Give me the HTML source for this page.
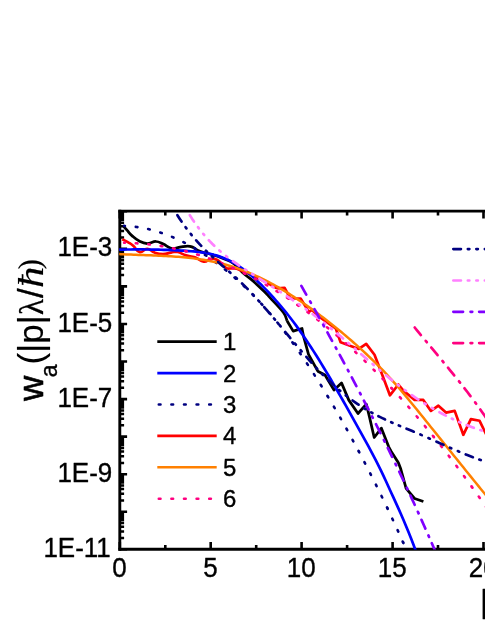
<!DOCTYPE html>
<html><head><meta charset="utf-8"><title>chart</title>
<style>html,body{margin:0;padding:0;background:#fff;}body{width:485px;height:628px;overflow:hidden;font-family:"Liberation Sans",sans-serif;}</style>
</head><body>
<div style="will-change:transform;width:485px;height:628px">
<svg width="485" height="628" viewBox="0 0 485 628" style="display:block">
<rect width="485" height="628" fill="#fff"/>
<defs><clipPath id="cp"><rect x="119.2" y="213.2" width="370" height="336.40000000000003"/></clipPath></defs>
<g stroke="#000" fill="none">
<path d="M119.8,550.8V209.85" stroke-width="2.9"/>
<path d="M118.35,211.15H490" stroke-width="2.6"/>
<path d="M118.35,549.3H490" stroke-width="2.9"/>
<path d="M119.8,549.3V542.0M119.8,211.15V218.45000000000002M210.7,549.3V542.0M210.7,211.15V218.45000000000002M301.6,549.3V542.0M301.6,211.15V218.45000000000002M392.6,549.3V542.0M392.6,211.15V218.45000000000002M483.5,549.3V542.0M483.5,211.15V218.45000000000002M165.3,549.3V545.0M165.3,211.15V215.45000000000002M256.2,549.3V545.0M256.2,211.15V215.45000000000002M347.1,549.3V545.0M347.1,211.15V215.45000000000002M438.0,549.3V545.0M438.0,211.15V215.45000000000002" stroke-width="2.6"/>
<path d="M119.8,549.3H127.1M119.8,511.7H127.1M119.8,474.2H127.1M119.8,436.6H127.1M119.8,399.1H127.1M119.8,361.5H127.1M119.8,324.0H127.1M119.8,286.4H127.1M119.8,248.9H127.1M119.8,211.3H127.1" stroke-width="2.6"/>
<path d="M119.8,538.0H124.1M119.8,531.4H124.1M119.8,526.7H124.1M119.8,523.1H124.1M119.8,520.1H124.1M119.8,517.6H124.1M119.8,515.4H124.1M119.8,513.5H124.1M119.8,500.4H124.1M119.8,493.8H124.1M119.8,489.1H124.1M119.8,485.5H124.1M119.8,482.5H124.1M119.8,480.0H124.1M119.8,477.8H124.1M119.8,475.9H124.1M119.8,462.9H124.1M119.8,456.3H124.1M119.8,451.6H124.1M119.8,448.0H124.1M119.8,445.0H124.1M119.8,442.5H124.1M119.8,440.3H124.1M119.8,438.4H124.1M119.8,425.3H124.1M119.8,418.7H124.1M119.8,414.0H124.1M119.8,410.4H124.1M119.8,407.4H124.1M119.8,404.9H124.1M119.8,402.7H124.1M119.8,400.8H124.1M119.8,387.8H124.1M119.8,381.2H124.1M119.8,376.5H124.1M119.8,372.9H124.1M119.8,369.9H124.1M119.8,367.4H124.1M119.8,365.2H124.1M119.8,363.3H124.1M119.8,350.2H124.1M119.8,343.6H124.1M119.8,338.9H124.1M119.8,335.3H124.1M119.8,332.3H124.1M119.8,329.8H124.1M119.8,327.6H124.1M119.8,325.7H124.1M119.8,312.7H124.1M119.8,306.1H124.1M119.8,301.4H124.1M119.8,297.8H124.1M119.8,294.8H124.1M119.8,292.3H124.1M119.8,290.1H124.1M119.8,288.2H124.1M119.8,275.1H124.1M119.8,268.5H124.1M119.8,263.8H124.1M119.8,260.2H124.1M119.8,257.2H124.1M119.8,254.7H124.1M119.8,252.5H124.1M119.8,250.6H124.1M119.8,237.6H124.1M119.8,231.0H124.1M119.8,226.3H124.1M119.8,222.7H124.1M119.8,219.7H124.1M119.8,217.2H124.1M119.8,215.0H124.1M119.8,213.1H124.1" stroke-width="2.5"/>
</g>
<g clip-path="url(#cp)" fill="none" stroke-linejoin="round">
<path d="M123.0,225.6C123.1,225.7 122.8,225.3 123.7,226.3C124.6,227.3 125.7,228.6 127.4,230.6C129.1,232.6 130.0,234.0 132.4,236.1C134.8,238.2 136.2,239.6 139.2,241.1C142.2,242.6 143.9,243.5 147.2,243.6C150.5,243.7 152.7,241.4 155.9,241.5C159.1,241.6 160.1,242.7 163.3,244.1C166.5,245.5 168.7,247.9 172.0,248.5C175.3,249.1 176.9,247.7 180.0,247.2C183.1,246.7 185.1,246.0 187.6,246.0C190.1,246.0 190.1,246.1 192.6,247.1C195.1,248.1 195.2,249.4 200.0,251.2C204.8,253.0 209.9,253.6 216.5,256.0C223.1,258.4 227.6,259.5 233.0,263.0C238.4,266.5 239.8,270.1 243.7,273.6C247.6,277.1 248.2,276.7 252.4,280.4C256.6,284.1 261.3,288.7 264.8,292.1C268.3,295.5 266.3,293.5 270.0,297.6C273.7,301.7 280.0,307.9 283.4,312.5C286.8,317.1 286.3,319.1 287.0,320.8" stroke="#000" stroke-width="2.75"/>
<path d="M287.0,320.8L293.2,331.1L302.0,328.5L303.5,336.2L308.5,354.3L317.8,371.2L325.0,375.0L334.0,390.1L341.5,382.9L348.8,400.1L358.0,413.5L366.3,404.2L369.4,416.6L374.2,437.5L381.4,428.2L388.7,446.8L391.2,451.4L398.4,462.8L400.5,468.2L406.1,488.4L414.5,498.5L423.4,501.5" stroke="#000" stroke-width="2.75"/>
<path d="M122.3,239.2C122.5,239.3 121.9,239.1 123.3,239.8C124.7,240.5 125.9,240.9 128.2,242.3C130.5,243.7 130.5,243.4 133.2,245.7C135.9,248.0 136.5,251.5 139.8,252.2C143.1,252.9 143.7,248.7 147.2,248.8C150.7,248.9 150.9,251.3 154.6,252.6C158.3,253.9 159.1,254.2 162.9,254.2C166.8,254.2 167.6,253.1 171.1,252.6C174.6,252.1 174.2,251.3 177.7,252.0C181.2,252.7 182.0,254.2 186.0,255.4C190.0,256.6 190.9,255.9 195.0,257.3C199.1,258.7 200.0,261.2 203.7,261.6C207.4,262.0 207.8,259.4 211.0,259.0C214.2,258.6 213.8,257.9 217.3,260.0C220.8,262.1 222.6,265.8 226.0,267.8C229.4,269.8 228.7,267.9 232.0,268.4C235.3,268.9 233.5,267.5 240.0,270.0C246.5,272.5 251.3,274.7 260.0,279.0C268.7,283.3 273.1,286.2 277.1,288.4" stroke="#ff0000" stroke-width="2.7"/>
<path d="M277.1,288.4L284.6,287.8L290.3,298.5L300.6,298.5L308.9,311.9L312.0,309.8L318.0,316.0L335.7,328.3L340.6,342.3L358.8,348.9L366.2,343.9L374.5,354.7L382.7,376.1L389.9,395.3L398.4,384.5L403.8,391.0L414.6,399.9L423.3,399.9L430.9,410.9L438.4,405.7L446.0,412.6L454.7,410.9L463.3,434.8L470.9,419.1L479.6,420.8L485.0,432.0L487.0,436.0" stroke="#ff0000" stroke-width="2.7"/>
<path d="M116.00,249.66L118.50,249.62L121.00,249.58L123.50,249.55L126.00,249.52L128.50,249.50L131.00,249.48L133.50,249.47L136.00,249.46L138.50,249.45L141.00,249.46L143.50,249.47L146.00,249.48L148.50,249.50L151.00,249.53L153.50,249.57L156.00,249.62L158.50,249.67L161.00,249.73L163.50,249.80L166.00,249.88L168.50,249.97L171.00,250.07L173.50,250.17L176.00,250.29L178.50,250.42L181.00,250.56L183.50,250.71L186.00,250.87L188.50,251.04L191.00,251.24L193.50,251.45L196.00,251.69L198.50,251.97L201.00,252.29L203.50,252.65L206.00,253.07L208.50,253.54L211.00,254.08L213.50,254.68L216.00,255.36L218.50,256.13L221.00,256.97L223.50,257.91L226.00,258.95L228.50,260.09L231.00,261.34L233.50,262.70L236.00,264.18L238.50,265.78L241.00,267.49L243.50,269.30L246.00,271.21L248.50,273.22L251.00,275.33L253.50,277.52L256.00,279.79L258.50,282.15L261.00,284.58L263.50,287.08L266.00,289.65L268.50,292.29L271.00,294.98L273.50,297.74L276.00,300.56L278.50,303.43L281.00,306.36L283.50,309.35L286.00,312.40L288.50,315.53L291.00,318.74L293.50,322.03L296.00,325.41L298.50,328.86L301.00,332.40L303.50,336.01L306.00,339.69L308.50,343.44L311.00,347.26L313.50,351.14L316.00,355.07L318.50,359.07L321.00,363.12L323.50,367.22L326.00,371.37L328.50,375.56L331.00,379.80L333.50,384.07L336.00,388.38L338.50,392.73L341.00,397.10L343.50,401.50L346.00,405.93L348.50,410.38L351.00,414.84L353.50,419.32L356.00,423.81L358.50,428.31L361.00,432.82L363.50,437.33L366.00,441.86L368.50,446.43L371.00,451.06L373.50,455.77L376.00,460.58L378.50,465.52L381.00,470.61L383.50,475.87L386.00,481.27L388.50,486.73L391.00,492.20L393.50,497.66L396.00,503.14L398.50,508.68L401.00,514.31L403.50,520.05L406.00,525.94L408.50,532.00L411.00,538.27L413.50,544.79L416.00,551.57L417.30,555.21" stroke="#0000ff" stroke-width="2.7"/>
<path d="M124.10,225.91L126.60,226.02L129.10,226.18L131.60,226.39L134.10,226.65L136.60,226.97L139.10,227.34L141.60,227.76L144.10,228.23L146.60,228.75L149.10,229.32L151.60,229.94L154.10,230.61L156.60,231.34L159.10,232.11L161.60,232.93L164.10,233.80L166.60,234.72L169.10,235.69L171.60,236.70L174.10,237.77L176.60,238.88L179.10,240.04L181.60,241.25L184.10,242.51L186.60,243.81L189.10,245.16L191.60,246.56L194.10,248.00L195.11,248.61" stroke="#000080" stroke-width="2.6" stroke-dasharray="1.694 10.865" stroke-dashoffset="0.847" stroke-linecap="round"/>
<path d="M195.11,248.61L196.60,249.49L199.10,251.03L201.60,252.61L204.10,254.24L206.60,255.91L209.10,257.62L211.60,259.39L214.10,261.19L216.60,263.04L219.10,264.94L221.60,266.87L224.10,268.86L226.60,270.88L229.10,272.95L231.60,275.06L234.10,277.21L236.60,279.41L239.10,281.65L241.60,283.93L244.10,286.26L246.60,288.64L249.10,291.07L251.60,293.55L254.10,296.08L256.60,298.66L259.10,301.30L261.60,304.00L264.10,306.76L266.60,309.57L269.10,312.45L271.60,315.39L274.10,318.40L276.60,321.47L279.10,324.61L281.60,327.81L284.10,331.07L286.60,334.39L289.10,337.77L291.60,341.21L292.93,343.05" stroke="#000080" stroke-width="2.6" stroke-dasharray="1.679 10.768" stroke-dashoffset="0.840" stroke-linecap="round"/>
<path d="M292.93,343.05L294.10,344.69L296.60,348.24L299.10,351.83L301.60,355.47L304.10,359.16L306.60,362.90L309.10,366.68L311.60,370.51L314.10,374.39L316.60,378.32L319.10,382.29L321.60,386.31L324.10,390.38L326.60,394.49L327.87,396.60" stroke="#000080" stroke-width="2.6" stroke-dasharray="1.726 11.065" stroke-dashoffset="0.863" stroke-linecap="round"/>
<path d="M327.87,396.60L329.10,398.64L331.60,402.85L334.10,407.09L336.60,411.39L339.10,415.72L341.60,420.11L344.10,424.53L346.60,429.00L349.10,433.51L351.60,438.07L354.10,442.67L356.60,447.31L358.91,451.65" stroke="#000080" stroke-width="2.6" stroke-dasharray="1.706 10.937" stroke-dashoffset="0.853" stroke-linecap="round"/>
<path d="M358.91,451.65L359.10,452.00L361.60,456.73L364.10,461.50L366.60,466.32L369.10,471.18L371.60,476.09L374.10,481.04L376.60,486.05L379.10,491.10L381.60,496.21L384.10,501.37L386.60,506.58L387.34,508.13" stroke="#000080" stroke-width="2.6" stroke-dasharray="1.706 10.941" stroke-dashoffset="0.853" stroke-linecap="round"/>
<path d="M387.34,508.13L389.10,511.84L391.60,517.16L394.10,522.54L396.60,527.97L399.10,533.46L401.60,539.01L403.05,542.28" stroke="#000080" stroke-width="2.6" stroke-dasharray="1.690 10.838" stroke-dashoffset="0.845" stroke-linecap="round"/>
<path d="M403.05,542.28L404.10,544.63L406.60,550.30L408.00,553.50" stroke="#000080" stroke-width="2.6" stroke-dasharray="1.700 10.900" stroke-dashoffset="0.850" stroke-linecap="round"/>
<path d="M116.00,253.90L118.50,254.04L121.00,254.18L123.50,254.30L126.00,254.41L128.50,254.52L131.00,254.62L133.50,254.72L136.00,254.81L138.50,254.90L141.00,254.99L143.50,255.08L146.00,255.17L148.50,255.26L151.00,255.35L153.50,255.44L156.00,255.54L158.50,255.65L161.00,255.76L163.50,255.89L166.00,256.02L168.50,256.16L171.00,256.31L173.50,256.47L176.00,256.65L178.50,256.84L181.00,257.05L183.50,257.28L186.00,257.52L188.50,257.78L191.00,258.06L193.50,258.37L196.00,258.69L198.50,259.04L201.00,259.41L203.50,259.81L206.00,260.24L208.50,260.69L211.00,261.17L213.50,261.68L216.00,262.22L218.50,262.79L221.00,263.40L223.50,264.04L226.00,264.72L228.50,265.43L231.00,266.18L233.50,266.97L236.00,267.79L238.50,268.66L241.00,269.56L243.50,270.51L246.00,271.49L248.50,272.50L251.00,273.55L253.50,274.64L256.00,275.77L258.50,276.93L261.00,278.12L263.50,279.35L266.00,280.61L268.50,281.90L271.00,283.23L273.50,284.59L276.00,285.98L278.50,287.40L281.00,288.86L283.50,290.34L286.00,291.85L288.50,293.39L291.00,294.97L293.50,296.57L296.00,298.19L298.50,299.85L301.00,301.53L303.50,303.24L306.00,304.97L308.50,306.74L311.00,308.52L313.50,310.33L316.00,312.17L318.50,314.02L321.00,315.90L323.50,317.81L326.00,319.74L328.50,321.69L331.00,323.66L333.50,325.66L336.00,327.67L338.50,329.72L341.00,331.78L343.50,333.87L346.00,335.99L348.50,338.12L351.00,340.28L353.50,342.47L356.00,344.68L358.50,346.91L361.00,349.17L363.50,351.45L366.00,353.76L368.50,356.10L371.00,358.47L373.50,360.88L376.00,363.33L378.50,365.82L381.00,368.36L383.50,370.95L386.00,373.59L388.50,376.29L391.00,379.04L393.50,381.83L396.00,384.67L398.50,387.55L401.00,390.46L403.50,393.41L406.00,396.39L408.50,399.40L411.00,402.43L413.50,405.48L416.00,408.55L418.50,411.64L421.00,414.73L423.50,417.84L426.00,420.95L428.50,424.06L431.00,427.17L433.50,430.28L436.00,433.39L438.50,436.51L441.00,439.62L443.50,442.73L446.00,445.84L448.50,448.95L451.00,452.06L453.50,455.17L456.00,458.27L458.50,461.38L461.00,464.48L463.50,467.58L466.00,470.68L468.50,473.78L471.00,476.87L473.50,479.96L476.00,483.05L478.50,486.13L481.00,489.21L483.50,492.29L486.00,495.36L488.50,498.43L490.70,501.13" stroke="#ff8000" stroke-width="2.5"/>
<path d="M124.10,242.79L126.60,242.84L129.10,242.91L131.60,243.01L134.10,243.14L136.60,243.29L139.10,243.46L141.60,243.66L144.10,243.88L146.60,244.13L149.10,244.41L151.60,244.70L154.10,245.03L156.60,245.37L159.10,245.75L161.60,246.14L164.10,246.56L166.60,247.01L169.10,247.48L171.60,247.98L174.10,248.50L176.60,249.05L179.10,249.62L181.60,250.21L184.10,250.83L185.97,251.31" stroke="#ff0080" stroke-width="2.6" stroke-dasharray="1.689 10.832" stroke-dashoffset="0.845" stroke-linecap="round"/>
<path d="M185.97,251.31L186.60,251.47L189.10,252.14L191.60,252.84L194.10,253.56L196.60,254.30L199.10,255.07L201.60,255.86L204.10,256.68L206.60,257.52L209.10,258.39L211.60,259.28L214.10,260.19L216.60,261.14L219.10,262.10L221.60,263.09L224.10,264.11L226.60,265.15L229.10,266.21L231.60,267.30L234.10,268.41L236.60,269.55L239.10,270.72L241.60,271.90L244.10,273.12L244.45,273.29" stroke="#ff0080" stroke-width="2.6" stroke-dasharray="1.689 10.828" stroke-dashoffset="0.844" stroke-linecap="round"/>
<path d="M244.45,273.29L246.60,274.35L249.10,275.62L251.60,276.90L254.10,278.21L256.60,279.55L259.10,280.91L261.60,282.29L264.10,283.70L266.60,285.14L269.10,286.60L271.60,288.08L274.10,289.59L276.60,291.12L279.10,292.68L281.60,294.26L284.10,295.87L286.60,297.50L289.10,299.16L291.60,300.84L294.10,302.55L296.60,304.28L298.06,305.30" stroke="#ff0080" stroke-width="2.6" stroke-dasharray="1.686 10.813" stroke-dashoffset="0.843" stroke-linecap="round"/>
<path d="M298.06,305.30L299.10,306.03L301.60,307.81L304.10,309.61L306.60,311.44L309.10,313.30L311.60,315.17L314.10,317.08L316.60,319.00L319.10,320.96L321.60,322.93L324.10,324.93L326.60,326.96L329.10,329.01L331.60,331.08L334.10,333.18L336.60,335.31L339.10,337.46L341.60,339.63L344.10,341.83L346.41,343.88" stroke="#ff0080" stroke-width="2.6" stroke-dasharray="1.670 10.709" stroke-dashoffset="0.835" stroke-linecap="round"/>
<path d="M346.41,343.88L346.60,344.05L349.10,346.30L351.60,348.57L354.10,350.86L356.60,353.18L359.10,355.53L361.60,357.90L364.10,360.29L366.60,362.71L369.10,365.16L371.60,367.62L374.10,370.12L376.60,372.63L379.10,375.18L381.60,377.74L384.10,380.33L386.60,382.95L389.10,385.59L391.60,388.25L391.82,388.48" stroke="#ff0080" stroke-width="2.6" stroke-dasharray="1.718 11.015" stroke-dashoffset="0.859" stroke-linecap="round"/>
<path d="M391.82,388.48L394.10,390.94L396.60,393.65L399.10,396.39L401.60,399.16L404.10,401.94L406.60,404.75L409.10,407.59L411.60,410.45L414.10,413.34L416.60,416.25L419.10,419.18L421.60,422.14L424.10,425.12L426.60,428.13L429.10,431.16L431.60,434.22L433.42,436.46" stroke="#ff0080" stroke-width="2.6" stroke-dasharray="1.714 10.990" stroke-dashoffset="0.857" stroke-linecap="round"/>
<path d="M433.42,436.46L434.10,437.30L436.60,440.41L439.10,443.54L441.60,446.69L444.10,449.87L446.60,453.08L449.10,456.31L451.60,459.56L454.10,462.84L456.60,466.14L459.10,469.46L461.60,472.81L464.10,476.19L466.60,479.59L469.10,483.01L471.60,486.46L471.96,486.97" stroke="#ff0080" stroke-width="2.6" stroke-dasharray="1.715 10.994" stroke-dashoffset="0.857" stroke-linecap="round"/>
<path d="M471.96,486.97L474.10,489.94L476.60,493.43L479.10,496.96L481.60,500.50L484.10,504.07L486.60,507.67L487.00,508.25" stroke="#ff0080" stroke-width="2.6" stroke-dasharray="1.700 10.900" stroke-dashoffset="0.850" stroke-linecap="round"/>
<path d="M174.80,211.01L177.30,215.07L179.80,218.94L182.30,222.63L184.80,226.16L187.30,229.53L189.80,232.75L192.30,235.83L194.80,238.78L195.34,239.40" stroke="#000080" stroke-width="2.7" stroke-dasharray="7.600 6.900 1.500 7.000 1.500 7.000" stroke-dashoffset="26.566" stroke-linecap="round"/>
<path d="M195.34,239.40L197.30,241.62L199.80,244.34L202.30,246.97L204.80,249.51L207.30,251.97L209.80,254.37L212.30,256.70L214.80,258.98L217.10,261.05" stroke="#000080" stroke-width="2.7" stroke-dasharray="7.410 6.728 1.463 6.825 1.463 6.825" stroke-dashoffset="-1.316" stroke-linecap="round"/>
<path d="M217.10,261.05L217.30,261.23L219.80,263.44L222.30,265.64L224.80,267.83L227.30,270.01L229.80,272.21L232.30,274.42L234.80,276.67L237.30,278.95L239.80,281.29L241.09,282.52" stroke="#000080" stroke-width="2.7" stroke-dasharray="7.768 7.053 1.533 7.155 1.533 7.155" stroke-dashoffset="-1.380" stroke-linecap="round"/>
<path d="M241.09,282.52L242.30,283.68L244.80,286.14L247.30,288.66L249.80,291.25L252.30,293.88L254.80,296.57L257.30,299.31L259.80,302.09L262.30,304.91L263.29,306.04" stroke="#000080" stroke-width="2.7" stroke-dasharray="7.808 7.089 1.541 7.191 1.541 7.191" stroke-dashoffset="-1.387" stroke-linecap="round"/>
<path d="M263.29,306.04L264.80,307.77L267.30,310.66L269.80,313.57L272.30,316.51L274.80,319.47L277.30,322.44L279.80,325.43L282.30,328.43L284.80,331.43L287.30,334.42L289.80,337.42L292.30,340.41L294.80,343.38L297.30,346.34L299.80,349.28L302.30,352.20L304.80,355.08L305.45,355.83" stroke="#000080" stroke-width="2.7" stroke-dasharray="7.870 7.145 1.553 7.249 1.553 7.249" stroke-dashoffset="-1.398" stroke-linecap="round"/>
<path d="M305.45,355.83L307.30,357.94L309.80,360.76L312.30,363.54L314.80,366.28L317.30,368.97L319.80,371.60L322.30,374.19L324.80,376.71L327.30,379.17L329.80,381.57L332.30,383.90L334.80,386.16L337.30,388.37L339.80,390.51L342.30,392.59L344.80,394.61L347.30,396.57L349.80,398.47L351.53,399.75" stroke="#000080" stroke-width="2.7" stroke-dasharray="7.696 6.987 1.519 7.088 1.519 7.088" stroke-dashoffset="-1.367" stroke-linecap="round"/>
<path d="M351.53,399.75L352.30,400.31L354.80,402.09L357.30,403.82L359.80,405.49L362.30,407.10L364.80,408.66L367.30,410.16L369.80,411.60L372.30,413.00L374.80,414.34L377.20,415.59" stroke="#000080" stroke-width="2.7" stroke-dasharray="7.285 6.614 1.438 6.710 1.438 6.710" stroke-dashoffset="-1.294" stroke-linecap="round"/>
<path d="M377.20,415.59L377.30,415.64L379.80,416.90L382.30,418.12L384.80,419.30L387.30,420.45L389.80,421.58L392.30,422.68L394.80,423.76L397.30,424.83L399.80,425.88L402.30,426.92L404.80,427.96L405.21,428.13" stroke="#000080" stroke-width="2.7" stroke-dasharray="7.407 6.725 1.462 6.822 1.462 6.822" stroke-dashoffset="-1.316" stroke-linecap="round"/>
<path d="M405.21,428.13L407.30,428.99L409.80,430.03L412.30,431.08L414.80,432.13L417.30,433.19L419.80,434.27L422.30,435.36L424.80,436.47L427.30,437.58L429.80,438.69L432.30,439.81L434.80,440.94L435.19,441.11" stroke="#000080" stroke-width="2.7" stroke-dasharray="7.881 7.155 1.555 7.258 1.555 7.258" stroke-dashoffset="-1.400" stroke-linecap="round"/>
<path d="M435.19,441.11L437.30,442.06L439.80,443.19L442.30,444.31L444.80,445.43L447.30,446.54L449.80,447.65L452.30,448.74L454.80,449.83L457.30,450.90L459.80,451.96L462.30,453.00L464.51,453.91" stroke="#000080" stroke-width="2.7" stroke-dasharray="7.721 7.010 1.524 7.112 1.524 7.112" stroke-dashoffset="-1.372" stroke-linecap="round"/>
<path d="M464.51,453.91L464.80,454.03L467.30,455.03L469.80,456.02L472.30,456.98L474.80,457.91L477.30,458.82L479.80,459.71L482.30,460.56L484.80,461.38L487.30,462.17L489.80,462.92L490.00,462.98" stroke="#000080" stroke-width="2.7" stroke-dasharray="7.600 6.900 1.500 7.000 1.500 7.000" stroke-dashoffset="-1.350" stroke-linecap="round"/>
<path d="M187.20,210.92L189.70,215.01L192.20,218.89L194.70,222.58L197.20,226.08L199.70,229.42L202.20,232.58L204.70,235.59L207.20,238.45L207.92,239.22" stroke="#ff80ff" stroke-width="2.7" stroke-dasharray="7.600 6.900 1.500 7.000 1.500 7.000" stroke-dashoffset="26.518" stroke-linecap="round"/>
<path d="M207.92,239.22L209.70,241.16L212.20,243.75L214.70,246.21L217.20,248.55L219.70,250.79L222.20,252.93L224.70,254.98L227.20,256.95L229.70,258.84L231.80,260.38" stroke="#ff80ff" stroke-width="2.7" stroke-dasharray="7.714 7.003 1.522 7.105 1.522 7.105" stroke-dashoffset="-1.370" stroke-linecap="round"/>
<path d="M231.80,260.38L232.20,260.67L234.70,262.45L237.20,264.18L239.70,265.87L242.20,267.52L244.70,269.16L247.20,270.78L249.70,272.39L252.20,274.00L254.70,275.60L257.20,277.19L258.25,277.85" stroke="#ff80ff" stroke-width="2.7" stroke-dasharray="7.648 6.943 1.509 7.044 1.509 7.044" stroke-dashoffset="-1.358" stroke-linecap="round"/>
<path d="M258.25,277.85L259.70,278.78L262.20,280.36L264.70,281.95L267.20,283.53L269.70,285.12L272.20,286.71L274.70,288.30L277.20,289.90L279.70,291.51L282.20,293.12L284.70,294.75L285.68,295.39" stroke="#ff80ff" stroke-width="2.7" stroke-dasharray="7.854 7.131 1.550 7.234 1.550 7.234" stroke-dashoffset="-1.395" stroke-linecap="round"/>
<path d="M285.68,295.39L287.20,296.39L289.70,298.04L292.20,299.70L294.70,301.39L297.20,303.08L299.70,304.80L302.20,306.54L304.70,308.29L307.20,310.08L309.70,311.88L312.20,313.71L314.70,315.57L317.20,317.45L319.70,319.37L322.20,321.32L324.70,323.29L327.20,325.29L329.70,327.32L332.20,329.37L334.70,331.44L336.19,332.68" stroke="#ff80ff" stroke-width="2.7" stroke-dasharray="7.579 6.881 1.496 6.981 1.496 6.981" stroke-dashoffset="-1.346" stroke-linecap="round"/>
<path d="M336.19,332.68L337.20,333.53L339.70,335.63L342.20,337.75L344.70,339.89L347.20,342.03L349.70,344.19L352.20,346.35L354.70,348.52L357.20,350.69L359.70,352.86L360.17,353.27" stroke="#ff80ff" stroke-width="2.7" stroke-dasharray="7.626 6.924 1.505 7.024 1.505 7.024" stroke-dashoffset="-1.355" stroke-linecap="round"/>
<path d="M360.17,353.27L362.20,355.03L364.70,357.20L367.20,359.37L369.70,361.53L372.20,363.68L374.70,365.82L377.20,367.95L379.70,370.06L382.20,372.16L384.70,374.24L387.20,376.30L389.70,378.34L392.20,380.36L394.70,382.35L397.20,384.31L399.70,386.24L402.20,388.15L404.70,390.01L407.20,391.85L409.70,393.64L412.20,395.40L414.70,397.13L417.20,398.81L419.70,400.46L422.20,402.08L424.70,403.66L427.20,405.20L429.70,406.71L432.20,408.19L434.70,409.62L437.20,411.03L438.32,411.64" stroke="#ff80ff" stroke-width="2.7" stroke-dasharray="7.862 7.138 1.552 7.241 1.552 7.241" stroke-dashoffset="-1.397" stroke-linecap="round"/>
<path d="M438.32,411.64L439.70,412.40L442.20,413.74L444.70,415.04L447.20,416.31L449.70,417.55L452.20,418.75L454.70,419.92L457.20,421.06L459.70,422.17L462.20,423.24L464.70,424.28L465.46,424.59" stroke="#ff80ff" stroke-width="2.7" stroke-dasharray="7.260 6.591 1.433 6.686 1.433 6.686" stroke-dashoffset="-1.290" stroke-linecap="round"/>
<path d="M465.46,424.59L467.20,425.29L469.70,426.27L472.20,427.22L474.70,428.14L477.20,429.03L479.70,429.88L482.20,430.71L484.70,431.51L487.20,432.28L489.70,433.02L490.00,433.10" stroke="#ff80ff" stroke-width="2.7" stroke-dasharray="7.600 6.900 1.500 7.000 1.500 7.000" stroke-dashoffset="-1.350" stroke-linecap="round"/>
<path d="M299.00,281.74L300.62,284.59" stroke="#8000ff" stroke-width="2.7" stroke-dasharray="9.700 7.500 1.700 6.900" stroke-dashoffset="21.175" stroke-linecap="round"/>
<path d="M300.62,284.59L301.50,286.14L304.00,290.55L306.50,294.97L309.00,299.40L311.50,303.84L314.00,308.29L316.50,312.76L319.00,317.23L321.50,321.72L324.00,326.23L326.50,330.75L326.78,331.26" stroke="#8000ff" stroke-width="2.7" stroke-dasharray="10.059 7.777 1.763 7.155" stroke-dashoffset="-1.400" stroke-linecap="round"/>
<path d="M326.78,331.26L329.00,335.28L331.50,339.83L334.00,344.40L336.50,348.99L339.00,353.59L339.09,353.75" stroke="#8000ff" stroke-width="2.7" stroke-dasharray="9.638 7.452 1.689 6.856" stroke-dashoffset="-1.341" stroke-linecap="round"/>
<path d="M339.09,353.75L341.50,358.21L344.00,362.85L346.50,367.51L349.00,372.20L351.15,376.23" stroke="#8000ff" stroke-width="2.7" stroke-dasharray="9.592 7.416 1.681 6.823" stroke-dashoffset="-1.335" stroke-linecap="round"/>
<path d="M351.15,376.23L351.50,376.90L354.00,381.62L356.50,386.37L359.00,391.14L361.50,395.94L363.30,399.41" stroke="#8000ff" stroke-width="2.7" stroke-dasharray="9.838 7.607 1.724 6.998" stroke-dashoffset="-1.369" stroke-linecap="round"/>
<path d="M363.30,399.41L364.00,400.76L366.50,405.60L369.00,410.47L371.50,415.37L374.00,420.29L376.50,425.24L379.00,430.22L381.50,435.23L384.00,440.27L386.50,445.34L389.00,450.44L391.50,455.57L394.00,460.74L396.50,465.93L399.00,471.16L401.50,476.43L404.00,481.73L406.50,487.06L409.00,492.43L411.50,497.84L414.00,503.29L416.50,508.77L419.00,514.29L420.92,518.57" stroke="#8000ff" stroke-width="2.7" stroke-dasharray="9.954 7.696 1.744 7.081" stroke-dashoffset="-1.385" stroke-linecap="round"/>
<path d="M420.92,518.57L421.50,519.85L424.00,525.45L426.50,531.10L429.00,536.78L431.27,541.97" stroke="#8000ff" stroke-width="2.7" stroke-dasharray="9.621 7.439 1.686 6.844" stroke-dashoffset="-1.339" stroke-linecap="round"/>
<path d="M431.27,541.97L431.50,542.50L434.00,548.27L436.50,554.08L437.00,555.25" stroke="#8000ff" stroke-width="2.7" stroke-dasharray="9.700 7.500 1.700 6.900" stroke-dashoffset="-1.350" stroke-linecap="round"/>
<path d="M412.20,324.39L413.82,326.39" stroke="#ff0080" stroke-width="2.7" stroke-dasharray="9.700 7.500 1.700 6.900" stroke-dashoffset="21.883" stroke-linecap="round"/>
<path d="M413.82,326.39L414.70,327.48L417.20,330.55L419.70,333.60L422.20,336.63L424.70,339.65L427.20,342.66L429.70,345.66L430.40,346.50" stroke="#ff0080" stroke-width="2.7" stroke-dasharray="9.801 7.578 1.718 6.972" stroke-dashoffset="-1.364" stroke-linecap="round"/>
<path d="M430.40,346.50L432.20,348.66L434.70,351.66L437.20,354.65L439.70,357.66L442.20,360.67L444.70,363.69L447.11,366.61" stroke="#ff0080" stroke-width="2.7" stroke-dasharray="9.830 7.601 1.723 6.993" stroke-dashoffset="-1.368" stroke-linecap="round"/>
<path d="M447.11,366.61L447.20,366.72L449.70,369.77L452.20,372.84L454.70,375.93L457.20,379.04L459.70,382.18L462.20,385.36L463.56,387.11" stroke="#ff0080" stroke-width="2.7" stroke-dasharray="9.882 7.641 1.732 7.030" stroke-dashoffset="-1.375" stroke-linecap="round"/>
<path d="M463.56,387.11L464.70,388.56L467.20,391.80L469.70,395.08L472.20,398.41L474.70,401.77L477.20,405.19L479.52,408.41" stroke="#ff0080" stroke-width="2.7" stroke-dasharray="10.009 7.739 1.754 7.120" stroke-dashoffset="-1.393" stroke-linecap="round"/>
<path d="M479.52,408.41L479.70,408.66L482.20,412.17L484.70,415.75L487.20,419.39L489.70,423.08L490.00,423.53" stroke="#ff0080" stroke-width="2.7" stroke-dasharray="9.700 7.500 1.700 6.900" stroke-dashoffset="-1.350" stroke-linecap="round"/>
</g>
<g fill="none">
<path d="M157.3,341.6H216.7" stroke="#000" stroke-width="2.75"/>
<path d="M157.3,373.1H216.7" stroke="#0000ff" stroke-width="2.7"/>
<path d="M158.8,404.5H216.7" stroke="#000080" stroke-width="2.6" stroke-dasharray="1.7 10.9" stroke-linecap="round"/>
<path d="M157.3,435.9H216.7" stroke="#ff0000" stroke-width="2.7"/>
<path d="M157.3,467.3H216.7" stroke="#ff8000" stroke-width="2.5"/>
<path d="M158.8,498.7H216.7" stroke="#ff0080" stroke-width="2.6" stroke-dasharray="1.7 10.9" stroke-linecap="round"/>
<path stroke-linecap="round" d="M453.35,249.1H495" stroke="#000080" stroke-width="2.7" stroke-dasharray="7.6 6.9 1.5 7.0 1.5 7.0"/>
<path stroke-linecap="round" d="M453.35,280.5H495" stroke="#ff80ff" stroke-width="2.7" stroke-dasharray="7.6 6.9 1.5 7.0 1.5 7.0"/>
<path stroke-linecap="round" d="M453.35,311.8H495" stroke="#8000ff" stroke-width="2.7" stroke-dasharray="9.7 7.5 1.7 6.9"/>
<path stroke-linecap="round" d="M453.35,343.1H495" stroke="#ff0080" stroke-width="2.7" stroke-dasharray="9.7 7.5 1.7 6.9"/>
</g>
<g font-family="Liberation Sans, sans-serif" fill="#000" stroke="#000" stroke-width="0.35" stroke-linejoin="round">
<text transform="translate(112.3,256.4) scale(1,1.035)" font-size="26" text-anchor="end">1E-3</text>
<text transform="translate(112.3,331.5) scale(1,1.035)" font-size="26" text-anchor="end">1E-5</text>
<text transform="translate(112.3,406.6) scale(1,1.035)" font-size="26" text-anchor="end">1E-7</text>
<text transform="translate(112.3,481.7) scale(1,1.035)" font-size="26" text-anchor="end">1E-9</text>
<text transform="translate(110.8,556.8) scale(1,1.035)" font-size="26" text-anchor="end">1E-11</text>
<text transform="translate(119.5,577) scale(1,1.035)" font-size="26" text-anchor="middle">0</text>
<text transform="translate(210.4,577) scale(1,1.035)" font-size="26" text-anchor="middle">5</text>
<text transform="translate(301.3,577) scale(1,1.035)" font-size="26" text-anchor="middle">10</text>
<text transform="translate(392.3,577) scale(1,1.035)" font-size="26" text-anchor="middle">15</text>
<text transform="translate(483.2,577) scale(1,1.035)" font-size="26" text-anchor="middle">20</text>
<text transform="translate(223.1,350.1) scale(1,1.035)" font-size="24">1</text>
<text transform="translate(223.1,381.6) scale(1,1.035)" font-size="24">2</text>
<text transform="translate(223.1,413.0) scale(1,1.035)" font-size="24">3</text>
<text transform="translate(223.1,444.4) scale(1,1.035)" font-size="24">4</text>
<text transform="translate(223.1,475.8) scale(1,1.035)" font-size="24">5</text>
<text transform="translate(223.1,507.2) scale(1,1.035)" font-size="24">6</text>
<text x="480.0" y="611.7" font-size="32">|p|</text>
<g stroke-width="0.6">
<text transform="translate(42.7,401) rotate(-90)" font-size="35">w</text>
<text transform="translate(56.7,377.2) rotate(-90)" font-size="23" stroke-width="0.35">a</text>
<text transform="translate(42.7,364.4) rotate(-90)" font-size="35" stroke-width="0.15">(|p|</text>
<text transform="translate(42.7,315.0) rotate(-90)" font-size="33" font-family="Liberation Serif, serif" stroke-width="0.3">λ</text>
<text transform="translate(42.7,298) rotate(-90)" font-size="35" stroke-width="0.3">/</text>
<text transform="translate(42.7,288) rotate(-90) scale(1.185,1)" font-size="36.2" font-family="Liberation Serif, serif" font-style="italic" stroke-width="0.15">ħ</text>
<text transform="translate(40.400000000000006,269.6) rotate(-90)" font-size="31.5" font-family="Liberation Serif, serif" stroke-width="0.1">)</text>
</g>
</g>
</svg>
</div>
</body></html>
